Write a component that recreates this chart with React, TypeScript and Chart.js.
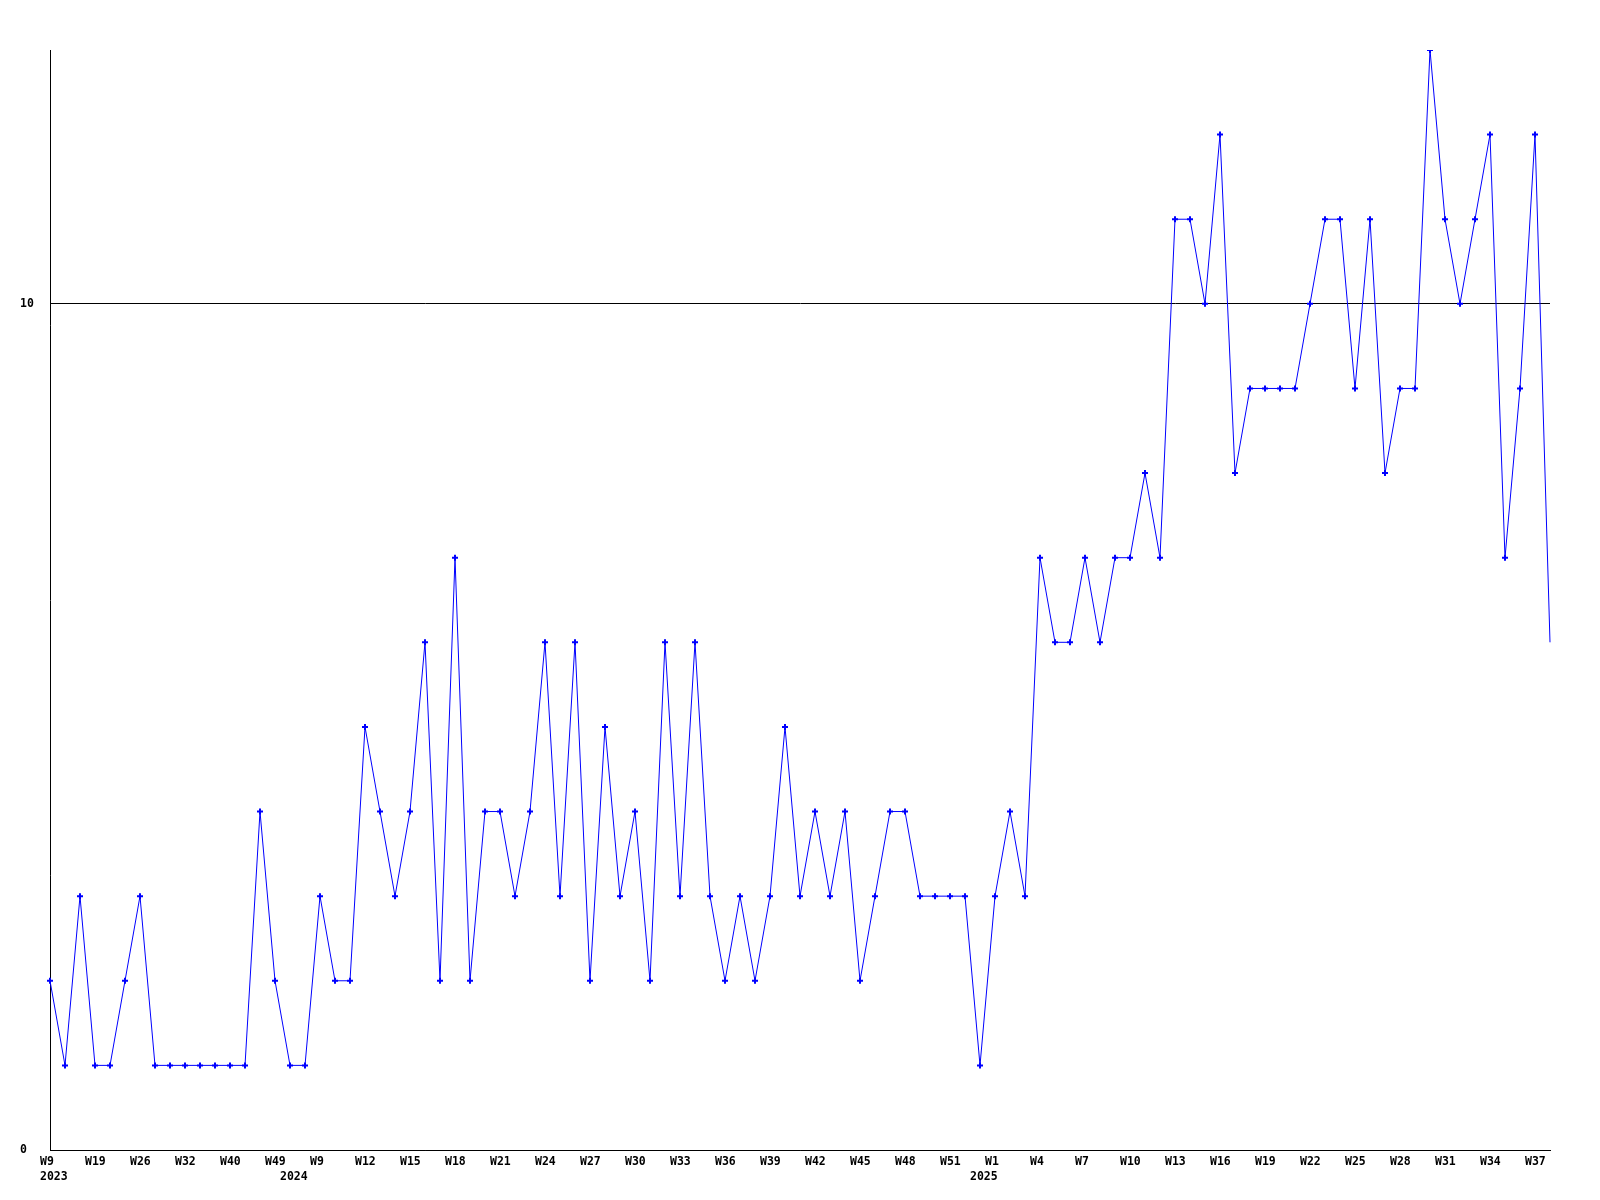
import React, { useEffect, useRef } from "react";
import { Chart, registerables } from "chart.js";

Chart.register(...registerables);

// week numbers of each sample (only every 3rd is labelled on the axis)
const weeks: number[] = [
  9, 12, 15, 19, 21, 23, 26, 28, 30, 32, 35, 37, 40, 43, 46, 49,
  3, 6,
  9, 10, 11, 12, 13, 14, 15, 16, 17, 18, 19, 20, 21, 22, 23, 24, 25, 26, 27, 28, 29, 30,
  31, 32, 33, 34, 35, 36, 37, 38, 39, 40, 41, 42, 43, 44, 45, 46, 47, 48, 49, 50, 51, 52,
  0, 1, 2, 3, 4, 5, 6, 7, 8, 9, 10, 11, 12, 13, 14, 15, 16, 17, 18, 19, 20, 21, 22, 23, 24,
  25, 26, 27, 28, 29, 30, 31, 32, 33, 34, 35, 36, 37, 38,
];

const years: number[] = [
  ...Array(16).fill(2023),
  ...Array(46).fill(2024),
  ...Array(39).fill(2025),
];

const values: number[] = [
  2, 1, 3, 1, 1, 2, 3, 1, 1, 1, 1, 1, 1, 1, 4, 2,
  1, 1, 3, 2, 2, 5, 4, 3, 4, 6, 2, 7, 2, 4,
  4, 3, 4, 6, 3, 6, 2, 5, 3, 4, 2, 6, 3, 6, 3, 2, 3, 2, 3, 5,
  3, 4, 3, 4, 2, 3, 4, 4, 3, 3, 3, 3, 1, 3, 4, 3, 7, 6, 6, 7,
  6, 7, 7, 8, 7, 11, 11, 10, 12, 8, 9, 9, 9, 9, 10, 11, 11, 9, 11, 8,
  9, 9, 13, 11, 10, 11, 12, 7, 9, 12, 6,
];

const yTickValues: number[] = [0, 10];

const labels = values.map((_, i) => `${years[i]}-W${weeks[i]}`);

const FONT = { family: "'DejaVu Sans Mono', monospace", size: 11.5, weight: "bold" as const, lineHeight: "15px" };

export default function App() {
  const ref = useRef<HTMLCanvasElement | null>(null);

  useEffect(() => {
    if (!ref.current) return;
    const chart = new Chart(ref.current, {
      type: "line",
      data: {
        labels,
        datasets: [
          {
            data: values,
            borderColor: "#0000ff",
            backgroundColor: "#0000ff",
            borderWidth: 1,
            tension: 0,
            fill: false,
            pointStyle: "cross",
            pointRadius: (ctx: any) => (ctx.dataIndex === values.length - 1 ? 0 : 3),
            pointBorderWidth: 2,
            pointBorderColor: "#0000ff",
            pointBackgroundColor: "#0000ff",
          },
        ],
      },
      options: {
        animation: false,
        responsive: false,
        maintainAspectRatio: false,
        events: [],
        layout: { padding: { left: 12, top: 42, right: 42, bottom: 0 } },
        plugins: {
          legend: { display: false },
          tooltip: { enabled: false },
          title: { display: false },
        },
        scales: {
          x: {
            type: "category",
            offset: false,
            grid: { display: false, drawTicks: false },
            border: { display: true, color: "#000000", width: 1 },
            afterFit: (scale: any) => {
              scale.height = 42;
            },
            ticks: {
              autoSkip: false,
              maxRotation: 0,
              minRotation: 0,
              align: "start",
              labelOffset: -10,
              padding: 5,
              color: "#000000",
              font: FONT,
              callback: (_v: any, i: number) => {
                const wk = i % 3 === 0 ? `W${weeks[i]}` : "";
                const newYear = i === 0 || years[i] !== years[i - 1];
                if (newYear) return [wk, String(years[i])];
                return wk;
              },
            },
          },
          y: {
            type: "linear",
            min: 0,
            max: 13,
            afterBuildTicks: (scale: any) => {
              scale.ticks = yTickValues.map((v) => ({ value: v }));
            },
            afterFit: (scale: any) => {
              scale.width = 30;
            },
            grid: { display: true, color: "#000000", lineWidth: 1, drawTicks: false },
            border: { display: true, color: "#000000", width: 1 },
            ticks: {
              crossAlign: "far",
              padding: 0,
              color: "#000000",
              font: FONT,
            },
          },
        },
      },
    });
    return () => chart.destroy();
  }, []);

  return (
    <div style={{ width: 1584, height: 1184 }}>
      <canvas ref={ref} width={1584} height={1184} style={{ display: "block", width: 1584, height: 1184 }} />
    </div>
  );
}
